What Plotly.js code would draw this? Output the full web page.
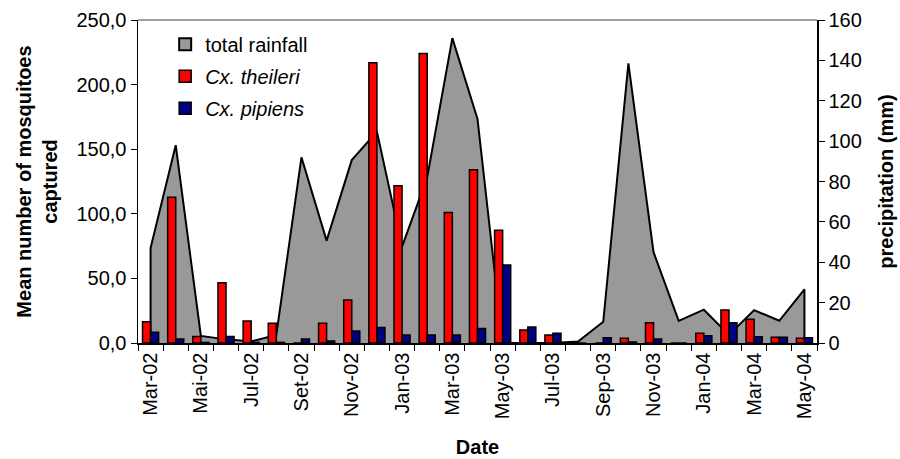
<!DOCTYPE html>
<html>
<head>
<meta charset="utf-8">
<script src="https://cdn.plot.ly/plotly-3.0.1.min.js"></script>
<style>
  html, body { margin: 0; padding: 0; background: #fff; }
  #chart { width: 900px; height: 459px; }
</style>
</head>
<body>
<div id="chart"></div>
<script>
// Categories (monthly)
var months = ['Mar-02','Apr-02','Mai-02','Jun-02','Jul-02','Aug-02','Set-02','Oct-02','Nov-02','Dec-02',
              'Jan-03','Feb-03','Mar-03','Apr-03','May-03','Jun-03','Jul-03','Aug-03','Sep-03','Oct-03',
              'Nov-03','Dec-03','Jan-04','Feb-04','Mar-04','Apr-04','May-04'];
// Tick labels shown (every other month)
var tickLabels = ['Mar-02','','Mai-02','','Jul-02','','Set-02','','Nov-02','',
                  'Jan-03','','Mar-03','','May-03','','Jul-03','','Sep-03','',
                  'Nov-03','','Jan-04','','Mar-04','','May-04'];
// Total rainfall (mm), right axis
var rainfall = [47, 98, 3.5, 1.8, 0.8, 4, 92, 50.7, 90.6, 104.7,
                47.7, 82, 151, 111, 0, 0, 0, 0.7, 10.5, 138.5,
                45, 11, 16.5, 4, 16.3, 11, 26.6];
// Mean number of Cx. theileri captured, left axis
var theileri = [16.5, 112.8, 5, 46.7, 17, 15.2, 0, 15.2, 33.3, 217,
                121.8, 224, 101, 134, 87.2, 10, 6.2, 0.5, 0, 3.6,
                15.7, 0, 7.5, 25.5, 18.3, 4.4, 3.6];
// Mean number of Cx. pipiens captured, left axis
var pipiens = [8.3, 3, 0.5, 5, 0.5, 0.5, 3, 1.5, 9.3, 12,
               6.2, 6.2, 6.2, 11.3, 60.4, 12.3, 7.5, 0, 4, 0.8,
               3, 0, 5.7, 15.7, 4.9, 4.4, 4];
var leftTicks = [0, 50, 100, 150, 200, 250];
var leftTickText = ['0,0', '50,0', '100,0', '150,0', '200,0', '250,0'];
var rightTicks = [0, 20, 40, 60, 80, 100, 120, 140, 160];

var FONT = 'Liberation Sans, Arial, sans-serif';

// closed area polygon built from the rainfall series
var areaX = [months[0]].concat(months, [months[months.length - 1]]);
var areaY = [0].concat(rainfall, [0]);

var traces = [
  {
    type: 'scatter', x: areaX, y: areaY, yaxis: 'y',
    mode: 'lines', fill: 'toself', fillcolor: '#999999',
    line: { color: '#000000', width: 2 },
    showlegend: false, hoverinfo: 'skip'
  },
  {
    type: 'scatter', x: [null], y: [null], yaxis: 'y',
    mode: 'markers', name: 'total rainfall',
    marker: { symbol: 'square', size: 12, color: '#999999', line: { color: '#000', width: 2 } },
    legendgroup: 'a', legendrank: 1
  },
  {
    type: 'bar', x: months, y: theileri, yaxis: 'y2',
    name: '<i>Cx. theileri</i>',
    marker: { color: '#FF0000', line: { color: '#000000', width: 1.5 } },
    legendgroup: 'b', legendrank: 2
  },
  {
    type: 'bar', x: months, y: pipiens, yaxis: 'y2',
    name: '<i>Cx. pipiens</i>',
    marker: { color: '#000080', line: { color: '#000000', width: 1.5 } },
    legendgroup: 'c', legendrank: 3
  }
];

var layout = {
  width: 900, height: 459,
  margin: { l: 138, r: 83, t: 20, b: 116 },
  paper_bgcolor: '#ffffff', plot_bgcolor: 'rgba(0,0,0,0)',
  font: { family: FONT, size: 20, color: '#000' },
  barmode: 'group', bargap: 0.36, bargroupgap: 0,
  showlegend: true,
  legend: {
    x: 0.04, y: 0.985, xanchor: 'left', yanchor: 'top',
    bgcolor: 'rgba(0,0,0,0)', font: { family: FONT, size: 20, color: '#000' },
    tracegroupgap: 3, traceorder: 'grouped'
  },
  xaxis: {
    type: 'category', range: [-0.5, 26.5],
    tickmode: 'array', tickvals: months, ticktext: tickLabels,
    tickson: 'boundaries', ticks: 'outside', ticklen: 6, tickcolor: '#000', tickwidth: 1,
    tickangle: -90, tickfont: { family: FONT, size: 20, color: '#000' },
    showline: true, linecolor: '#000', linewidth: 1.5,
    showgrid: false, zeroline: false,
    title: { text: '<b>Date</b>', font: { family: FONT, size: 20, color: '#000' }, standoff: 22 }
  },
  yaxis: {
    side: 'right', range: [0, 160],
    tickmode: 'array', tickvals: rightTicks,
    ticks: 'outside', ticklen: 6, tickcolor: '#000',
    tickfont: { family: FONT, size: 20, color: '#000' },
    showline: true, linecolor: '#000', linewidth: 1.5,
    showgrid: false, zeroline: false,
    title: { text: '<b>precipitation (mm)</b>', font: { family: FONT, size: 20, color: '#000' }, standoff: 18 }
  },
  yaxis2: {
    overlaying: 'y', side: 'left', range: [0, 250],
    tickmode: 'array', tickvals: leftTicks, ticktext: leftTickText,
    ticks: 'outside', ticklen: 6, tickcolor: '#000',
    tickfont: { family: FONT, size: 20, color: '#000' },
    showline: true, linecolor: '#000', linewidth: 1.5,
    showgrid: false, zeroline: false,
    title: { text: '<b>Mean number of mosquitoes<br>captured</b>', font: { family: FONT, size: 20, color: '#000' }, standoff: 13 }
  },
  shapes: [
    { type: 'line', xref: 'paper', yref: 'paper', x0: 0, x1: 1, y0: 1, y1: 1,
      line: { color: '#808080', width: 1.5 } }
  ]
};

Plotly.newPlot('chart', traces, layout, { staticPlot: true, displayModeBar: false });
</script>
</body>
</html>
